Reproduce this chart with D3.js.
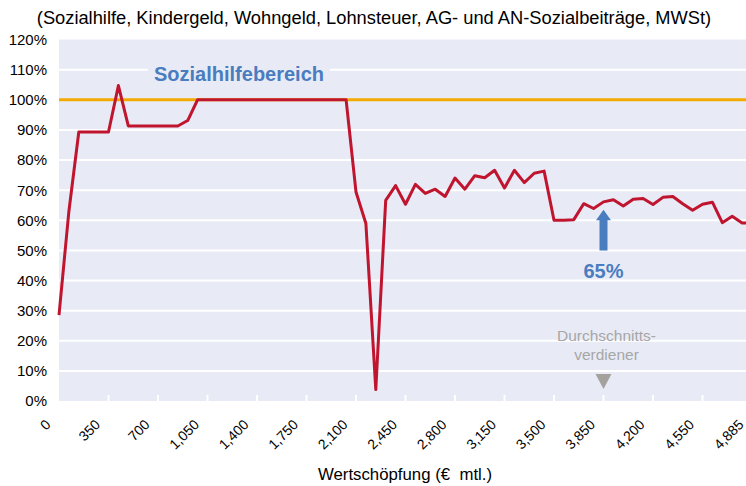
<!DOCTYPE html>
<html>
<head>
<meta charset="utf-8">
<script src="https://cdn.jsdelivr.net/npm/d3@7"></script>
<style>
  html, body { margin: 0; padding: 0; background: #ffffff; }
  svg { display: block; font-family: "Liberation Sans", Arial, sans-serif; }
</style>
</head>
<body>
<script>
// Monthly value added (€), one category every 70 €, last one at 4,885
const categories = [
  0, 70, 140, 210, 280, 350, 420, 490, 560, 630,
  700, 770, 840, 910, 980, 1050, 1120, 1190, 1260, 1330,
  1400, 1470, 1540, 1610, 1680, 1750, 1820, 1890, 1960, 2030,
  2100, 2170, 2240, 2310, 2380, 2450, 2520, 2590, 2660, 2730,
  2800, 2870, 2940, 3010, 3080, 3150, 3220, 3290, 3360, 3430,
  3500, 3570, 3640, 3710, 3780, 3850, 3920, 3990, 4060, 4130,
  4200, 4270, 4340, 4410, 4480, 4550, 4620, 4690, 4760, 4830,
  4885
];

// Effective marginal burden in percent
const burden = [
  28.5, 63.0, 89.3, 89.3, 89.3, 89.3, 104.7, 91.3, 91.3, 91.3,
  91.3, 91.3, 91.3, 93.1, 100, 100, 100, 100, 100, 100,
  100, 100, 100, 100, 100, 100, 100, 100, 100, 100,
  69.4, 58.9, 3.8, 66.6, 71.5, 65.3, 71.9, 68.9, 70.3, 67.9,
  74.0, 70.3, 74.8, 74.1, 76.6, 70.7, 76.6, 72.5, 75.6, 76.3,
  60.0, 60.0, 60.2, 65.5, 63.9, 66.1, 66.8, 64.7, 67.0, 67.2,
  65.2, 67.6, 67.9, 65.5, 63.3, 65.3, 66.0, 59.2, 61.3, 59.1,
  59.0
];

const yTicks = [0, 10, 20, 30, 40, 50, 60, 70, 80, 90, 100, 110, 120];
const referenceLevel = 100;
const averageEarner = 3850;
const averageBurden = "65%";

const W = 746, H = 486;
const plot = { left: 59, right: 752, top: 39.5, bottom: 401 };

const svg = d3.select("body").append("svg")
  .attr("width", W).attr("height", H);

const x = d3.scalePoint().domain(categories).range([plot.left, plot.right]);
const y = d3.scaleLinear().domain([0, 120]).range([plot.bottom, plot.top]);

// plot background
svg.append("rect")
  .attr("x", plot.left).attr("y", plot.top)
  .attr("width", plot.right - plot.left).attr("height", plot.bottom - plot.top)
  .attr("fill", "#e8ebf6");

// horizontal gridlines
svg.append("g").selectAll("line").data(yTicks.filter(d => d > 0 && d < 120)).join("line")
  .attr("x1", plot.left).attr("x2", plot.right)
  .attr("y1", d => y(d)).attr("y2", d => y(d))
  .attr("stroke", "#ffffff").attr("stroke-width", 2);

// x tick marks every fifth category
const labelled = categories.filter((d, i) => i % 5 === 0);
svg.append("g").selectAll("line").data(labelled.slice(1)).join("line")
  .attr("x1", d => x(d)).attr("x2", d => x(d))
  .attr("y1", plot.bottom - 6).attr("y2", plot.bottom)
  .attr("stroke", "#ffffff").attr("stroke-width", 2);

// y axis labels
svg.append("g").selectAll("text").data(yTicks).join("text")
  .attr("x", 47).attr("y", d => y(d)).attr("dy", "0.36em")
  .attr("text-anchor", "end")
  .attr("font-size", 15).attr("fill", "#000")
  .text(d => d + "%");

// x axis labels, rotated
const fmt = d3.format(",");
svg.append("g").selectAll("text").data(labelled).join("text")
  .attr("transform", d => `translate(${x(d) - 11},${422}) rotate(-45)`)
  .attr("text-anchor", "end")
  .attr("dy", "0.35em")
  .attr("font-size", 14).attr("fill", "#000")
  .text(d => fmt(d));

// box behind the area label
svg.append("rect")
  .attr("x", 148).attr("y", 62).attr("width", 182).attr("height", 24)
  .attr("fill", "#e8ebf6");

// 100 % reference line
svg.append("line")
  .attr("x1", plot.left).attr("x2", plot.right)
  .attr("y1", y(referenceLevel)).attr("y2", y(referenceLevel))
  .attr("stroke", "#f2aa00").attr("stroke-width", 3);

// burden curve
const line = d3.line()
  .x((d, i) => x(categories[i]))
  .y(d => y(d));
svg.append("path")
  .datum(burden)
  .attr("d", line)
  .attr("fill", "none")
  .attr("stroke", "#c0152f")
  .attr("stroke-width", 3)
  .attr("stroke-linejoin", "round");

// area label
svg.append("text")
  .attr("x", 239).attr("y", 81)
  .attr("text-anchor", "middle")
  .attr("font-size", 20).attr("font-weight", "bold")
  .attr("fill", "#4a7cc0")
  .text("Sozialhilfebereich");

// arrow pointing at the average earner's burden
const ax = x(averageEarner);
const arrow = d3.path();
arrow.moveTo(ax - 4, y(50));
arrow.lineTo(ax + 4, y(50));
arrow.lineTo(ax + 4, y(60));
arrow.lineTo(ax + 7.5, y(60));
arrow.lineTo(ax, y(63.5));
arrow.lineTo(ax - 7.5, y(60));
arrow.lineTo(ax - 4, y(60));
arrow.closePath();
svg.append("path").attr("d", arrow.toString()).attr("fill", "#4a7cc0");

svg.append("text")
  .attr("x", ax).attr("y", 278)
  .attr("text-anchor", "middle")
  .attr("font-size", 20).attr("font-weight", "bold")
  .attr("fill", "#4a7cc0")
  .text(averageBurden);

// average earner marker
svg.append("text")
  .attr("x", ax + 3).attr("y", 341)
  .attr("text-anchor", "middle")
  .attr("font-size", 15.5).attr("fill", "#a6a6a6")
  .text("Durchschnitts-");
svg.append("text")
  .attr("x", ax + 3).attr("y", 360)
  .attr("text-anchor", "middle")
  .attr("font-size", 15.5).attr("fill", "#a6a6a6")
  .text("verdiener");
const tri = d3.path();
tri.moveTo(ax - 8, 374);
tri.lineTo(ax + 8, 374);
tri.lineTo(ax, 389);
tri.closePath();
svg.append("path").attr("d", tri.toString()).attr("fill", "#a5a29d");

// title
svg.append("text")
  .attr("x", 374).attr("y", 24)
  .attr("text-anchor", "middle")
  .attr("font-size", 18.3).attr("fill", "#000")
  .text("(Sozialhilfe, Kindergeld, Wohngeld, Lohnsteuer, AG- und AN-Sozialbeiträge, MWSt)");

// x axis title
svg.append("text")
  .attr("x", 405).attr("y", 480)
  .attr("text-anchor", "middle")
  .attr("font-size", 16.8).attr("fill", "#000")
  .style("white-space", "pre")
  .text("Wertschöpfung (€  mtl.)");
</script>
</body>
</html>
